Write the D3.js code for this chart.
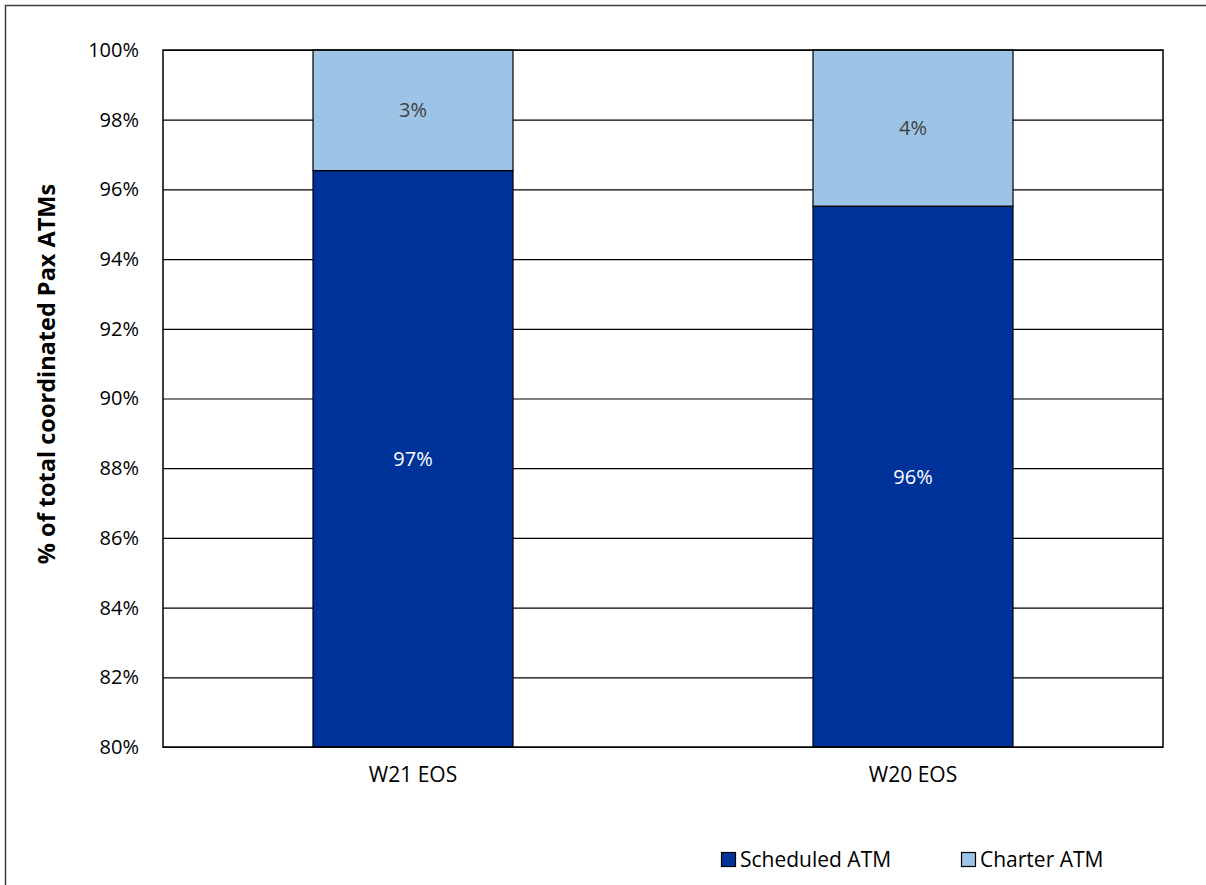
<!DOCTYPE html>
<html>
<head>
<meta charset="utf-8">
<script src="https://cdn.jsdelivr.net/npm/d3@7"></script>
<style>
  html, body { margin: 0; padding: 0; background: #fff; }
  svg { display: block; font-family: "Open Sans", Lato, sans-serif; }
</style>
</head>
<body>
<svg id="chart" width="1206" height="885"></svg>
<script>
// Share of coordinated passenger ATMs by flight type, per season
const categories = ["W21 EOS", "W20 EOS"];
const seriesKeys = ["Scheduled ATM", "Charter ATM"];
const scheduledValues = [0.9654, 0.9552];
const charterValues = [0.0346, 0.0448];
const yTickValues = [0.80, 0.82, 0.84, 0.86, 0.88, 0.90, 0.92, 0.94, 0.96, 0.98, 1.00];
const yAxisTitle = "% of total coordinated Pax ATMs";

const colors = { "Scheduled ATM": "#003399", "Charter ATM": "#9dc3e6" };
const labelColors = { "Scheduled ATM": "#ffffff", "Charter ATM": "#404040" };

const rows = categories.map((c, i) => ({
  category: c,
  "Scheduled ATM": scheduledValues[i],
  "Charter ATM": charterValues[i]
}));

const svg = d3.select("#chart");
const W = 1206, H = 885;
const plot = { left: 163, top: 50, right: 1163, bottom: 747 };

// outer chart frame (right/bottom edges sit outside the viewport)
svg.append("rect")
  .attr("x", 5.5).attr("y", 5.5)
  .attr("width", W).attr("height", H)
  .attr("fill", "#fff").attr("stroke", "#404040").attr("stroke-width", 1.5);

const x = d3.scaleBand()
  .domain(categories)
  .range([plot.left, plot.right])
  .paddingInner(0.6)
  .paddingOuter(0.3);

const y = d3.scaleLinear()
  .domain([0.8, 1.0])
  .range([plot.bottom, plot.top])
  .clamp(true);

// gridlines + y tick labels
const yAxis = d3.axisLeft(y)
  .tickValues(yTickValues)
  .tickFormat(d3.format(".0%"))
  .tickSizeInner(-(plot.right - plot.left))
  .tickSizeOuter(0)
  .tickPadding(24);

const gy = svg.append("g")
  .attr("transform", `translate(${plot.left},0)`)
  .call(yAxis);
gy.select(".domain").remove();
gy.selectAll(".tick line").attr("stroke", "#000").attr("stroke-width", 1.2);
gy.selectAll(".tick text")
  .attr("fill", "#000")
  .style("font-size", "20px")
  .style("font-family", "'Open Sans', sans-serif");

// stacked bars
const stacked = d3.stack().keys(seriesKeys)(rows);

const layers = svg.append("g").selectAll("g")
  .data(stacked)
  .join("g")
  .attr("fill", d => colors[d.key]);

layers.selectAll("rect")
  .data(d => d.map(p => ({ key: d.key, p })))
  .join("rect")
  .attr("x", d => x(d.p.data.category))
  .attr("width", x.bandwidth())
  .attr("y", d => y(d.p[1]))
  .attr("height", d => y(d.p[0]) - y(d.p[1]))
  .attr("stroke", "#000")
  .attr("stroke-width", 1.2);

// segment value labels
const fmt = d3.format(".0%");
layers.selectAll("text")
  .data(d => d.map(p => ({ key: d.key, p })))
  .join("text")
  .attr("x", d => x(d.p.data.category) + x.bandwidth() / 2)
  .attr("y", d => (y(d.p[0]) + y(d.p[1])) / 2)
  .attr("dy", "0.35em")
  .attr("text-anchor", "middle")
  .attr("fill", d => labelColors[d.key])
  .style("font-size", "20px")
  .text(d => fmt(d.p.data[d.key]));

// plot area border
svg.append("rect")
  .attr("x", plot.left).attr("y", plot.top)
  .attr("width", plot.right - plot.left)
  .attr("height", plot.bottom - plot.top)
  .attr("fill", "none").attr("stroke", "#000").attr("stroke-width", 1.5);

// category labels
const xAxis = d3.axisBottom(x).tickSize(0).tickPadding(20);
const gx = svg.append("g")
  .attr("transform", `translate(0,${plot.bottom})`)
  .call(xAxis);
gx.select(".domain").remove();
gx.selectAll(".tick text")
  .attr("fill", "#000")
  .style("font-size", "21px")
  .style("font-family", "'Open Sans', sans-serif");

// y axis title
svg.append("text")
  .attr("transform", `translate(55,${374}) rotate(-90)`)
  .attr("text-anchor", "middle")
  .attr("fill", "#000")
  .style("font-size", "23.5px")
  .style("font-weight", "bold")
  .text(yAxisTitle);

// legend
const legendX = [721, 961];
const legend = svg.append("g").selectAll("g")
  .data(seriesKeys)
  .join("g")
  .attr("transform", (d, i) => `translate(${legendX[i]},852)`);
legend.append("rect")
  .attr("x", 0.5).attr("y", 0.5)
  .attr("width", 14).attr("height", 14)
  .attr("fill", d => colors[d])
  .attr("stroke", "#000").attr("stroke-width", 1.2);
legend.append("text")
  .attr("x", 19).attr("y", 7.5)
  .attr("dy", "0.35em")
  .attr("fill", "#000")
  .style("font-size", "21px")
  .text(d => d);
</script>
</body>
</html>
